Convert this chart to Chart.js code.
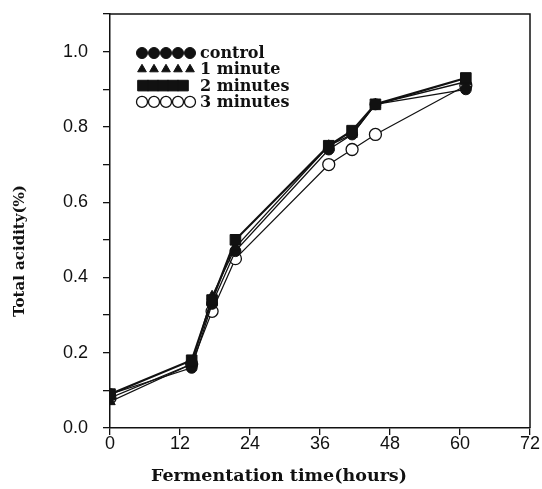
<!DOCTYPE html>
<html>
<head>
<meta charset="utf-8">
<script src="https://cdn.jsdelivr.net/npm/chart.js@4.4.1/dist/chart.umd.min.js"></script>
<style>
  html, body { margin: 0; padding: 0; background: #fff; }
  #wrap { width: 542px; height: 489px; }
</style>
</head>
<body>
<div id="wrap"><canvas id="grafico"></canvas></div>
<script>
// Tiempos de fermentación (horas)
const horas = [0, 14, 17.5, 21.5, 37.5, 41.5, 45.5, 61];

// Acidez total (%) por tratamiento
const control   = [0.09, 0.16, 0.33, 0.47, 0.74, 0.78, 0.86, 0.90];
const unMinuto  = [0.07, 0.17, 0.35, 0.48, 0.75, 0.78, 0.86, 0.92];
const dosMin    = [0.09, 0.18, 0.34, 0.50, 0.75, 0.79, 0.86, 0.93];
const tresMin   = [0.08, 0.17, 0.31, 0.45, 0.70, 0.74, 0.78, 0.91];

const etiquetas = ['control', '1 minute', '2 minutes', '3 minutes'];
const ticksX = [0, 12, 24, 36, 48, 60, 72];
const ticksY = [0.0, 0.2, 0.4, 0.6, 0.8, 1.0];
const tituloX = 'Fermentation time(hours)';
const tituloY = 'Total acidity(%)';

const tinta = '#111';

function puntos(valores) {
    return horas.map((h, i) => ({ x: h, y: valores[i] }));
}

// Leyenda dentro del área: cinco marcadores seguidos y el texto
const leyendaPlugin = {
    id: 'leyendaCinco',
    afterDraw(chart) {
        const ctx = chart.ctx;
        const x0 = 143, y0 = 53, paso = 16.3;
        const estilo = {
            circle: { sep: 12, r: 5.5 },
            triangle: { sep: 12, r: 5 },
            rect: { sep: 10, r: 7.5 }
        };
        ctx.save();
        chart.data.datasets.forEach((ds, i) => {
            const y = y0 + i * paso;
            const e = estilo[ds.pointStyle];
            for (let k = 0; k < 5; k++) {
                ctx.fillStyle = ds.pointBackgroundColor;
                ctx.strokeStyle = tinta;
                ctx.lineWidth = ds.pointBorderWidth;
                Chart.helpers.drawPoint(ctx, {
                    pointStyle: ds.pointStyle,
                    radius: e.r,
                    rotation: 0,
                    borderWidth: ds.pointBorderWidth
                }, x0 + k * e.sep - (ds.pointStyle === 'rect' ? 0 : 1), y);
            }
            ctx.fillStyle = tinta;
            ctx.font = 'bold 16px "DejaVu Serif"';
            ctx.textBaseline = 'middle';
            ctx.textAlign = 'left';
            ctx.fillText(ds.label, 200, y + 1);
        });
        ctx.restore();
    }
};

// Marco superior y derecho, y títulos de los ejes
const marcoPlugin = {
    id: 'marco',
    beforeDatasetsDraw(chart) {
        const a = chart.chartArea;
        const ctx = chart.ctx;
        ctx.save();
        ctx.strokeStyle = tinta;
        ctx.lineWidth = 1.5;
        ctx.beginPath();
        ctx.moveTo(a.left, a.top);
        ctx.lineTo(a.right, a.top);
        ctx.lineTo(a.right, a.bottom);
        ctx.stroke();

        ctx.fillStyle = tinta;
        ctx.textAlign = 'center';
        ctx.textBaseline = 'middle';
        ctx.font = 'bold 17.5px "DejaVu Serif"';
        ctx.fillText(tituloX, 279, 476);

        ctx.translate(20, 251);
        ctx.rotate(-Math.PI / 2);
        ctx.font = 'bold 15px "DejaVu Serif"';
        ctx.fillText(tituloY, 0, 0);
        ctx.restore();
    }
};

const ctx = document.getElementById('grafico').getContext('2d');
new Chart(ctx, {
    type: 'line',
    data: {
        datasets: [
            {
                label: etiquetas[0], data: puntos(control), order: 3,
                borderColor: tinta, borderWidth: 1.3,
                pointStyle: 'circle', pointRadius: 5.5,
                pointBackgroundColor: tinta, pointBorderColor: tinta, pointBorderWidth: 1
            },
            {
                label: etiquetas[1], data: puntos(unMinuto), order: 2,
                borderColor: tinta, borderWidth: 1.3,
                pointStyle: 'triangle', pointRadius: 6,
                pointBackgroundColor: tinta, pointBorderColor: tinta, pointBorderWidth: 1
            },
            {
                label: etiquetas[2], data: puntos(dosMin), order: 1,
                borderColor: tinta, borderWidth: 2.2,
                pointStyle: 'rect', pointRadius: 7.5,
                pointBackgroundColor: tinta, pointBorderColor: tinta, pointBorderWidth: 1
            },
            {
                label: etiquetas[3], data: puntos(tresMin), order: 4,
                borderColor: tinta, borderWidth: 1.2,
                pointStyle: 'circle', pointRadius: 6,
                pointBackgroundColor: '#fff', pointBorderColor: tinta, pointBorderWidth: 1.3
            }
        ]
    },
    options: {
        responsive: true,
        maintainAspectRatio: false,
        animation: false,
        layout: { padding: { left: 0, right: 12, top: 14, bottom: 0 } },
        plugins: {
            legend: { display: false },
            tooltip: { enabled: false }
        },
        scales: {
            x: {
                type: 'linear',
                min: 0, max: 72,
                afterBuildTicks: (s) => { s.ticks = ticksX.map(v => ({ value: v })); },
                afterFit: (s) => { s.height = 61; },
                border: { color: tinta, width: 1.5 },
                grid: { drawOnChartArea: false, drawTicks: true, tickLength: 7, color: tinta, lineWidth: 1.3 },
                ticks: {
                    color: tinta, padding: -2, maxRotation: 0,
                    font: { family: '"Liberation Sans", Arial, sans-serif', size: 18 }
                }
            },
            y: {
                min: 0, max: 1.1,
                afterBuildTicks: (s) => {
                    const lista = [];
                    for (let k = 0; k <= 11; k++) lista.push({ value: k / 10 });
                    s.ticks = lista;
                },
                afterFit: (s) => {
                    s.width = 110;
                    s.paddingTop = 0;
                    s.paddingBottom = 0;
                },
                border: { color: tinta, width: 1.5 },
                grid: { drawOnChartArea: false, drawTicks: true, tickLength: 7, color: tinta, lineWidth: 1.3 },
                ticks: {
                    color: tinta, padding: 15,
                    font: { family: '"Liberation Sans", Arial, sans-serif', size: 18 },
                    callback: (v) => {
                        const hit = ticksY.find(t => Math.abs(t - v) < 1e-6);
                        return hit === undefined ? '' : hit.toFixed(1);
                    }
                }
            }
        }
    },
    plugins: [marcoPlugin, leyendaPlugin]
});
</script>
</body>
</html>
